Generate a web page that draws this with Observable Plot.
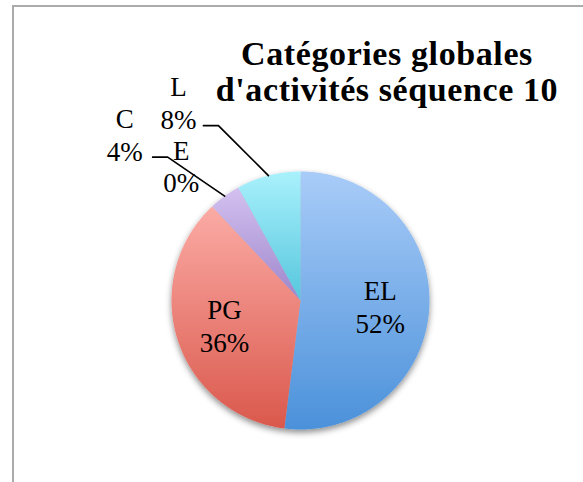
<!DOCTYPE html>
<html><head><meta charset="utf-8">
<script src="https://cdn.jsdelivr.net/npm/d3@7"></script>
<script src="https://cdn.jsdelivr.net/npm/@observablehq/plot@0.6"></script>
<style>
html,body{margin:0;padding:0;background:#fff;overflow:hidden;width:583px;height:482px}
#wrap{position:relative;width:583px;height:482px;overflow:hidden}
#border{position:absolute;left:12px;top:5px;width:700px;height:700px;border-left:2px solid #ababab;border-top:2px solid #ababab}
#chart{position:absolute;left:0;top:0}
#title{position:absolute;left:187px;width:400px;top:36px;text-align:center;font-family:"Liberation Serif",serif;font-weight:bold;font-size:34px;line-height:36px;letter-spacing:0.6px;color:#000}
</style></head><body>
<div id="wrap"><div id="border"></div><div id="chart"></div><div id="title"></div></div>
<script>
// ---- data ----
const categories = ["EL", "PG", "E", "C", "L"];
const percents = [52, 36, 0, 4, 8];
const titleLines = ["Catégories globales", "d'activités séquence 10"];

// ---- style / layout ----
const W = 583, H = 482;
const cx = 300, cy = 300, R = 129;
const gradTop = ["#a9ccf8", "#fbaba5", "#c6e3a0", "#d4c1f0", "#a9f1fc"];
const gradBottom = ["#4b91da", "#da584c", "#86b84c", "#9d86cb", "#56c6dd"];
// outer labels: offsets (text anchor and leader knee) relative to the slice's outer midpoint
const outerLabels = {
  L: {tdx: -90, tdy: -74, knee: [-50, -50], leader: true},
  C: {tdx: -100, tdy: -62, knee: [-57, -39], leader: true},
  E: {tdx: -31, tdy: -41, leader: false}
};
const innerRadiusFactor = 0.62;

document.getElementById("title").innerHTML = titleLines.join("<br>");

const data = categories.map((c, i) => ({cat: c, value: percents[i]}));
const arcs = d3.pie().sort(null).value(d => d.value)(data);
const pt = (a, r) => [cx + r * Math.sin(a), cy - r * Math.cos(a)];

// slice polygons
const slicePts = [];
for (const a of arcs) {
  const cat = a.data.cat;
  slicePts.push({cat, x: cx, y: cy});
  const n = Math.max(2, Math.ceil((a.endAngle - a.startAngle) / (Math.PI / 360)));
  for (let k = 0; k <= n; k++) {
    const ang = a.startAngle + (a.endAngle - a.startAngle) * k / n;
    const [x, y] = pt(ang, R);
    slicePts.push({cat, x, y});
  }
}

// labels
const labels = [];
const leaders = [];
for (const a of arcs) {
  const cat = a.data.cat;
  const mid = (a.startAngle + a.endAngle) / 2;
  const text = `${cat}\n${a.data.value}%`;
  const o = outerLabels[cat];
  if (o) {
    const [px, py] = pt(mid, R);
    labels.push({x: px + o.tdx, y: py + o.tdy, text});
    if (o.leader) {
      const kx = px + o.knee[0], ky = py + o.knee[1];
      leaders.push({cat, x: kx - 15, y: ky});
      leaders.push({cat, x: kx, y: ky});
      leaders.push({cat, x: px, y: py});
    }
  } else {
    const [x, y] = pt(mid, R * innerRadiusFactor);
    labels.push({x, y, text});
  }
}

const chart = Plot.plot({
  width: W, height: H, margin: 0,
  x: {domain: [0, W], range: [0, W], axis: null},
  y: {domain: [0, H], range: [0, H], axis: null},
  color: {type: "ordinal", domain: categories, range: categories.map(c => `url(#grad-${c})`)},
  style: {background: "transparent", overflow: "visible"},
  marks: [
    Plot.line(slicePts, {x: "x", y: "y", z: "cat", fill: "cat", stroke: "none", curve: "linear-closed"}),
    Plot.line(leaders, {x: "x", y: "y", z: "cat", stroke: "#000", strokeWidth: 1.7}),
    Plot.text(labels, {x: "x", y: "y", text: "text", fontSize: 27, lineHeight: 1.22, fontFamily: "Liberation Serif", fill: "#000"})
  ]
});

// gradients and shadow
const ns = "http://www.w3.org/2000/svg";
const defs = document.createElementNS(ns, "defs");
categories.forEach((c, i) => {
  const g = document.createElementNS(ns, "linearGradient");
  g.setAttribute("id", `grad-${c}`);
  g.setAttribute("x1", "0"); g.setAttribute("y1", "0");
  g.setAttribute("x2", "0"); g.setAttribute("y2", "1");
  [[0, gradTop[i]], [1, gradBottom[i]]].forEach(([off, col]) => {
    const s = document.createElementNS(ns, "stop");
    s.setAttribute("offset", off); s.setAttribute("stop-color", col);
    g.appendChild(s);
  });
  defs.appendChild(g);
});
const f = document.createElementNS(ns, "filter");
f.setAttribute("id", "shadow");
f.setAttribute("x", "-20%"); f.setAttribute("y", "-20%");
f.setAttribute("width", "140%"); f.setAttribute("height", "140%");
const ds = document.createElementNS(ns, "feDropShadow");
ds.setAttribute("dx", "0"); ds.setAttribute("dy", "3");
ds.setAttribute("stdDeviation", "3"); ds.setAttribute("flood-color", "#000");
ds.setAttribute("flood-opacity", "0.45");
f.appendChild(ds);
defs.appendChild(f);
chart.insertBefore(defs, chart.firstChild);
const pieG = chart.querySelector('g[aria-label="line"]');
if (pieG) pieG.setAttribute("filter", "url(#shadow)");

document.getElementById("chart").appendChild(chart);
</script>
</body></html>
